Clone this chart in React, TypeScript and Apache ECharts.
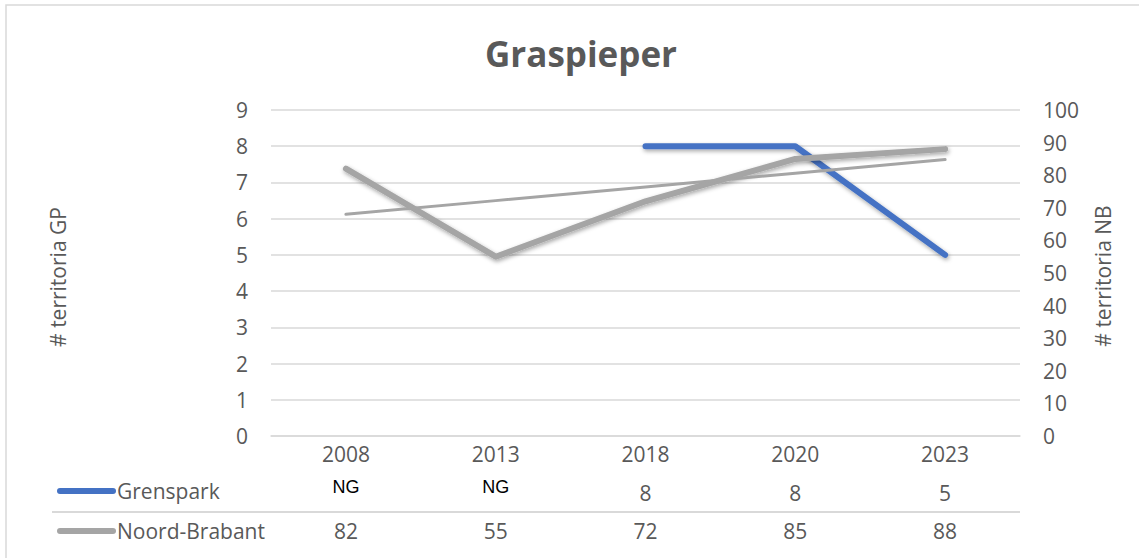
import React, { useEffect, useRef } from "react";
import * as echarts from "echarts";

const categories = ["2008", "2013", "2018", "2020", "2023"];
const grensparkValues: (number | null)[] = [null, null, 8, 8, 5];
const noordBrabantValues = [82, 55, 72, 85, 88];
const trendNBValues = [68.0, 72.2, 76.4, 80.6, 84.8];
const leftAxisTicks = [0, 9, 1];
const rightAxisTicks = [0, 100, 10];
const seriesNames = ["Grenspark", "Noord-Brabant"];
const missingLabel = "NG";

const W = 1139;
const H = 558;
const FONT = "'Open Sans', 'Noto Sans', sans-serif";
const FS = 21;
const TXT = "#595959";
const GRID = "#D9D9D9";
const BLUE = "#4472C4";
const GRAY = "#A5A5A5";

export default function App() {
  const ref = useRef<HTMLDivElement>(null);
  useEffect(() => {
    if (!ref.current) return;
    const chart = echarts.init(ref.current, undefined, { renderer: "svg" });
    const gridLeft = 271;
    const gridRight = 1020;
    const gridTop = 110;
    const gridBottom = 436;
    const shadow = {
      shadowColor: "rgba(0,0,0,0.35)",
      shadowBlur: 4,
      shadowOffsetX: 1,
      shadowOffsetY: 2,
    };
    chart.setOption({
      animation: false,
      backgroundColor: "#ffffff",
      textStyle: { fontFamily: FONT },
      title: {
        text: "Graspieper",
        left: 480,
        top: 31,
        textStyle: { fontFamily: FONT, fontSize: 35, fontWeight: "bold", color: TXT },
      },
      grid: { left: gridLeft, right: W - gridRight, top: gridTop, bottom: H - gridBottom, containLabel: false },
      xAxis: {
        type: "category",
        data: categories,
        boundaryGap: true,
        axisLine: { lineStyle: { color: GRID, width: 1.5 } },
        axisTick: { show: false },
        axisLabel: { color: TXT, fontSize: FS, fontFamily: FONT, margin: 7 },
      },
      yAxis: [
        {
          type: "value",
          min: leftAxisTicks[0],
          max: leftAxisTicks[1],
          interval: leftAxisTicks[2],
          axisLine: { show: false },
          axisTick: { show: false },
          splitLine: { lineStyle: { color: GRID, width: 1.5 } },
          axisLabel: { color: TXT, fontSize: FS, fontFamily: FONT, margin: 23 },
        },
        {
          type: "value",
          min: rightAxisTicks[0],
          max: rightAxisTicks[1],
          interval: rightAxisTicks[2],
          axisLine: { show: false },
          axisTick: { show: false },
          splitLine: { show: false },
          axisLabel: { color: TXT, fontSize: FS, fontFamily: FONT, margin: 23 },
        },
      ],
      series: [
        {
          name: seriesNames[0],
          type: "line",
          yAxisIndex: 0,
          data: grensparkValues,
          showSymbol: false,
          symbol: "none",
          lineStyle: { color: BLUE, width: 6, cap: "round", join: "round", ...shadow },
          z: 2,
        },
        {
          name: seriesNames[1],
          type: "line",
          yAxisIndex: 1,
          data: noordBrabantValues,
          showSymbol: false,
          symbol: "none",
          lineStyle: { color: GRAY, width: 6, cap: "round", join: "round", ...shadow },
          z: 3,
        },
        {
          name: "Trend",
          type: "line",
          yAxisIndex: 1,
          data: trendNBValues,
          showSymbol: false,
          symbol: "none",
          lineStyle: { color: GRAY, width: 3, cap: "round" },
          z: 4,
        },
      ],
    });

    const xs = categories.map((c) => chart.convertToPixel({ xAxisIndex: 0 }, c) as number);
    const row1Y = 491;
    const row2Y = 531;
    const graphics: any[] = [
      {
        type: "rect",
        shape: { x: 6, y: 5, width: W + 10, height: H + 10 },
        style: { fill: "none", stroke: GRID, lineWidth: 1.5 },
        silent: true,
      },
      {
        type: "text",
        x: 58,
        y: 277,
        rotation: Math.PI / 2,
        style: { text: "# territoria GP", font: `${FS}px ${FONT}`, fill: TXT, align: "center", verticalAlign: "middle" },
      },
      {
        type: "text",
        x: 1103,
        y: 276,
        rotation: Math.PI / 2,
        style: { text: "# territoria NB", font: `${FS}px ${FONT}`, fill: TXT, align: "center", verticalAlign: "middle" },
      },
      {
        type: "line",
        shape: { x1: 52, y1: 512, x2: gridRight, y2: 512 },
        style: { stroke: GRID, lineWidth: 2 },
      },
      {
        type: "line",
        shape: { x1: 60, y1: row1Y, x2: 113, y2: row1Y },
        style: { stroke: BLUE, lineWidth: 6, lineCap: "round" },
      },
      {
        type: "line",
        shape: { x1: 60, y1: row2Y, x2: 113, y2: row2Y },
        style: { stroke: GRAY, lineWidth: 6, lineCap: "round" },
      },
      {
        type: "text",
        x: 117,
        y: row1Y,
        style: { text: seriesNames[0], font: `${FS}px ${FONT}`, fill: TXT, align: "left", verticalAlign: "middle" },
      },
      {
        type: "text",
        x: 117,
        y: row2Y,
        style: { text: seriesNames[1], font: `${FS}px ${FONT}`, fill: TXT, align: "left", verticalAlign: "middle" },
      },
    ];
    grensparkValues.forEach((v, i) => {
      const isMissing = v === null;
      graphics.push({
        type: "text",
        x: xs[i],
        y: isMissing ? row1Y - 4 : row1Y + 2,
        style: {
          text: isMissing ? missingLabel : String(v),
          font: isMissing ? `18px 'Liberation Sans', sans-serif` : `${FS}px ${FONT}`,
          fill: isMissing ? "#000000" : TXT,
          align: "center",
          verticalAlign: "middle",
        },
      });
    });
    noordBrabantValues.forEach((v, i) => {
      graphics.push({
        type: "text",
        x: xs[i],
        y: row2Y,
        style: { text: String(v), font: `${FS}px ${FONT}`, fill: TXT, align: "center", verticalAlign: "middle" },
      });
    });
    chart.setOption({ graphic: graphics });

    return () => chart.dispose();
  }, []);
  return (
    <div
      ref={ref}
      style={{ position: "fixed", left: 0, top: 0, width: W, height: H, background: "#fff" }}
    />
  );
}
